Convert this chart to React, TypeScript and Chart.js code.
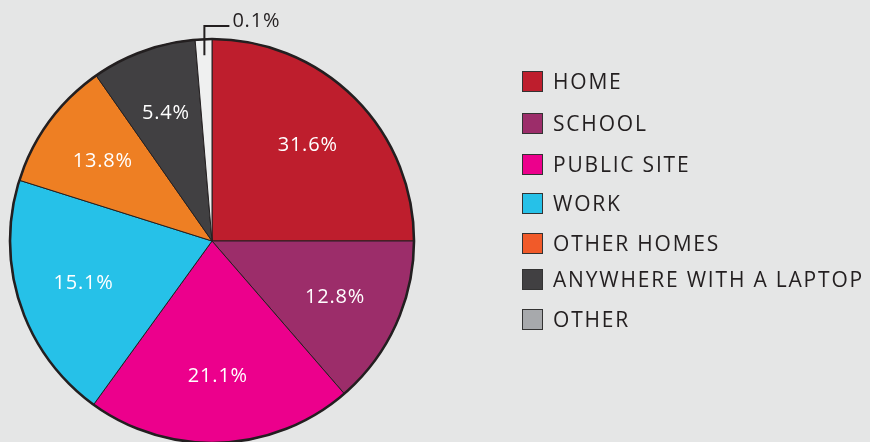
import React, { useEffect, useRef } from "react";
import { Chart, registerables } from "chart.js";

Chart.register(...registerables);

const categories = ["HOME", "SCHOOL", "PUBLIC SITE", "WORK", "OTHER HOMES", "ANYWHERE WITH A LAPTOP", "OTHER"];
// slice sizes as drawn in the picture (degrees of the circle)
const sliceValues = [90, 49.1, 76.8, 71.6, 37.5, 30.2, 4.8];
const sliceLabels = ["31.6%", "12.8%", "21.1%", "15.1%", "13.8%", "5.4%", "0.1%"];
const sliceColors = ["#be1e2d", "#9c2d6a", "#ec008c", "#26c1e8", "#ee7f23", "#414042", "#eff0f0"];
const legendColors = ["#be1e2d", "#9c2d6a", "#ec008c", "#26c1e8", "#f15a29", "#414042", "#a7a9ac"];
const legendTops = [70, 112, 153, 192, 232, 268, 308];

const FONT = "'Open Sans', 'Lato', sans-serif";
const BG = "#e5e6e6";
const INK = "#231f20";

const labelPlugin = {
  id: "sliceLabels",
  afterDatasetsDraw(chart: any) {
    const ctx = chart.ctx;
    const meta = chart.getDatasetMeta(0);
    ctx.save();
    // outer ring
    const a0 = meta.data[0];
    const p0 = a0.getProps(["x", "y", "outerRadius"], true);
    ctx.beginPath();
    ctx.arc(p0.x, p0.y, p0.outerRadius, 0, Math.PI * 2);
    ctx.lineWidth = 2.6;
    ctx.strokeStyle = INK;
    ctx.stroke();

    ctx.font = `500 20px ${FONT}`;
    (ctx as any).letterSpacing = "0.8px";
    ctx.textBaseline = "middle";
    meta.data.forEach((arc: any, i: number) => {
      const p = arc.getProps(["x", "y", "startAngle", "endAngle", "outerRadius"], true);
      const mid = (p.startAngle + p.endAngle) / 2;
      if (i === sliceLabels.length - 1) {
        const sx = p.x + Math.cos(mid) * p.outerRadius * 0.9;
        const sy = p.y + Math.sin(mid) * p.outerRadius * 0.92;
        const topY = p.y - p.outerRadius - 13;
        ctx.beginPath();
        ctx.moveTo(sx, sy);
        ctx.lineTo(sx, topY);
        ctx.lineTo(sx + 25, topY);
        ctx.lineWidth = 2;
        ctx.strokeStyle = INK;
        ctx.stroke();
        ctx.fillStyle = INK;
        ctx.textAlign = "left";
        ctx.fillText(sliceLabels[i], sx + 28, topY - 5);
        return;
      }
      const r = p.outerRadius * 0.67;
      ctx.fillStyle = "#ffffff";
      ctx.textAlign = "center";
      ctx.fillText(sliceLabels[i], p.x + Math.cos(mid) * r, p.y + Math.sin(mid) * r);
    });
    ctx.restore();
  },
};

export default function App() {
  const ref = useRef<HTMLCanvasElement>(null);
  useEffect(() => {
    const chart = new Chart(ref.current!, {
      type: "pie",
      data: {
        labels: categories,
        datasets: [
          {
            data: sliceValues,
            backgroundColor: sliceColors,
            borderColor: INK,
            borderWidth: 1,
          },
        ],
      },
      options: {
        responsive: false,
        animation: false,
        radius: 202,
        layout: { padding: { left: 10, right: 456, top: 39, bottom: 27 } },
        plugins: { legend: { display: false }, tooltip: { enabled: false } },
      } as any,
      plugins: [labelPlugin],
    });
    return () => chart.destroy();
  }, []);

  return (
    <div
      style={{
        position: "fixed",
        left: 0,
        top: 0,
        width: 870,
        height: 442,
        overflow: "hidden",
        background: BG,
      }}
    >
      <canvas ref={ref} width={870} height={470} style={{ position: "absolute", left: 0, top: 0 }} />
      {categories.map((c, i) => (
        <div
          key={c}
          style={{
            position: "absolute",
            left: 522,
            top: legendTops[i],
            height: 22,
            display: "flex",
            alignItems: "center",
            whiteSpace: "nowrap",
          }}
        >
          <div
            style={{
              width: 19,
              height: 19,
              background: legendColors[i],
              border: "1.5px solid #333",
              boxSizing: "content-box",
              flex: "none",
            }}
          />
          <span
            style={{
              marginLeft: 10,
              fontFamily: FONT,
              fontSize: 21,
              fontWeight: 500,
              letterSpacing: 1.8,
              color: INK,
              lineHeight: "22px",
            }}
          >
            {c}
          </span>
        </div>
      ))}
    </div>
  );
}
